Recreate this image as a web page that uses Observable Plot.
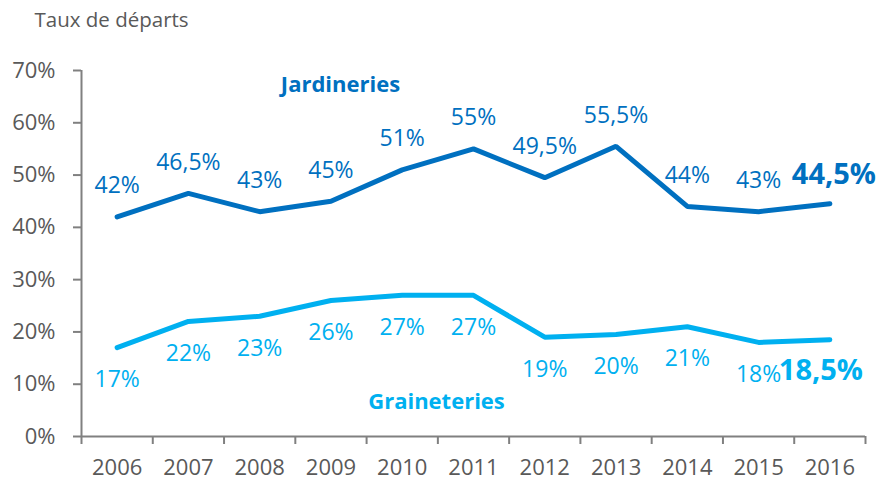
<!DOCTYPE html>
<html><head><meta charset="utf-8">
<script src="https://cdn.jsdelivr.net/npm/d3@7"></script>
<script src="https://cdn.jsdelivr.net/npm/@observablehq/plot@0.6"></script>
<style>body{margin:0;background:#fff}</style>
</head><body><div id="chart"></div>
<script>
const years = [2006, 2007, 2008, 2009, 2010, 2011, 2012, 2013, 2014, 2015, 2016];
const jardineries = [42, 46.5, 43, 45, 51, 55, 49.5, 55.5, 44, 43, 44.5];
const graineteries = [17, 22, 23, 26, 27, 27, 19, 19.5, 21, 18, 18.5];
const jardLabels = ["42%", "46,5%", "43%", "45%", "51%", "55%", "49,5%", "55,5%", "44%", "43%", "44,5%"];
const grainLabels = ["17%", "22%", "23%", "26%", "27%", "27%", "19%", "20%", "21%", "18%", "18,5%"];
const yTicks = [0, 10, 20, 30, 40, 50, 60, 70];
const seriesNames = ["Jardineries", "Graineteries"];
const yTitle = "Taux de départs";

const DARK = "#0070C0", LIGHT = "#00B0F0", AXIS = "#808080", TEXT = "#595959";
const rowsJ = years.map((year, i) => ({year, value: jardineries[i], label: jardLabels[i]}));
const rowsG = years.map((year, i) => ({year, value: graineteries[i], label: grainLabels[i]}));
const boundaries = years.map(y => y - 0.5).concat([years[years.length - 1] + 0.5]);
const xDomain = [boundaries[0], boundaries[boundaries.length - 1]];
const yDomain = [yTicks[0], yTicks[yTicks.length - 1]];

const chart = Plot.plot({
  width: 882, height: 481,
  marginLeft: 81, marginRight: 17, marginTop: 70, marginBottom: 45,
  style: {fontFamily: "'Open Sans', sans-serif", background: "white"},
  x: {type: "linear", domain: xDomain, axis: null},
  y: {domain: yDomain, axis: null},
  marks: [
    Plot.axisY({ticks: yTicks, tickSize: 8, tickFormat: () => "", color: AXIS, strokeWidth: 2, label: null}),
    Plot.axisY({ticks: yTicks, tickSize: 0, tickPadding: 26, tickFormat: d => d + "%", fontSize: 22, color: TEXT, label: null}),
    Plot.axisX({ticks: boundaries, tickSize: 8, tickFormat: () => "", color: AXIS, strokeWidth: 2, label: null}),
    Plot.axisX({ticks: years, tickSize: 0, tickPadding: 23, tickFormat: d => String(d), fontSize: 22, color: TEXT, label: null}),
    Plot.ruleX([xDomain[0]], {y1: yDomain[0], y2: yDomain[1], stroke: AXIS, strokeWidth: 2}),
    Plot.ruleY([yDomain[0]], {x1: xDomain[0], x2: xDomain[1], stroke: AXIS, strokeWidth: 2}),
    Plot.text([yTitle], {frameAnchor: "top-left", dx: -47, dy: -50, textAnchor: "start", lineAnchor: "middle", fontSize: 20.5, fill: TEXT}),
    Plot.line(rowsJ, {x: "year", y: "value", stroke: DARK, strokeWidth: 5, strokeLinecap: "round", strokeLinejoin: "miter"}),
    Plot.line(rowsG, {x: "year", y: "value", stroke: LIGHT, strokeWidth: 5, strokeLinecap: "round", strokeLinejoin: "miter"}),
    Plot.text(rowsJ.slice(0, -1), {x: "year", y: "value", text: "label", dy: -31, fill: DARK, fontSize: 23}),
    Plot.text(rowsJ.slice(-1), {x: "year", y: "value", text: "label", dy: -29, dx: 4, fill: DARK, fontSize: 29, fontWeight: "bold"}),
    Plot.text(rowsG.slice(0, -1), {x: "year", y: "value", text: "label", dy: 32, fill: LIGHT, fontSize: 23}),
    Plot.text(rowsG.slice(-1), {x: "year", y: "value", text: "label", dy: 31, dx: -9, fill: LIGHT, fontSize: 29, fontWeight: "bold"}),
    Plot.text([seriesNames[0]], {frameAnchor: "top-left", dx: 259, dy: 14, textAnchor: "middle", lineAnchor: "middle", fill: DARK, fontSize: 22, fontWeight: "bold"}),
    Plot.text([seriesNames[1]], {frameAnchor: "bottom-left", dx: 355, dy: -35, textAnchor: "middle", lineAnchor: "middle", fill: LIGHT, fontSize: 22, fontWeight: "bold"})
  ]
});
document.getElementById("chart").appendChild(chart);
</script>
</body></html>
